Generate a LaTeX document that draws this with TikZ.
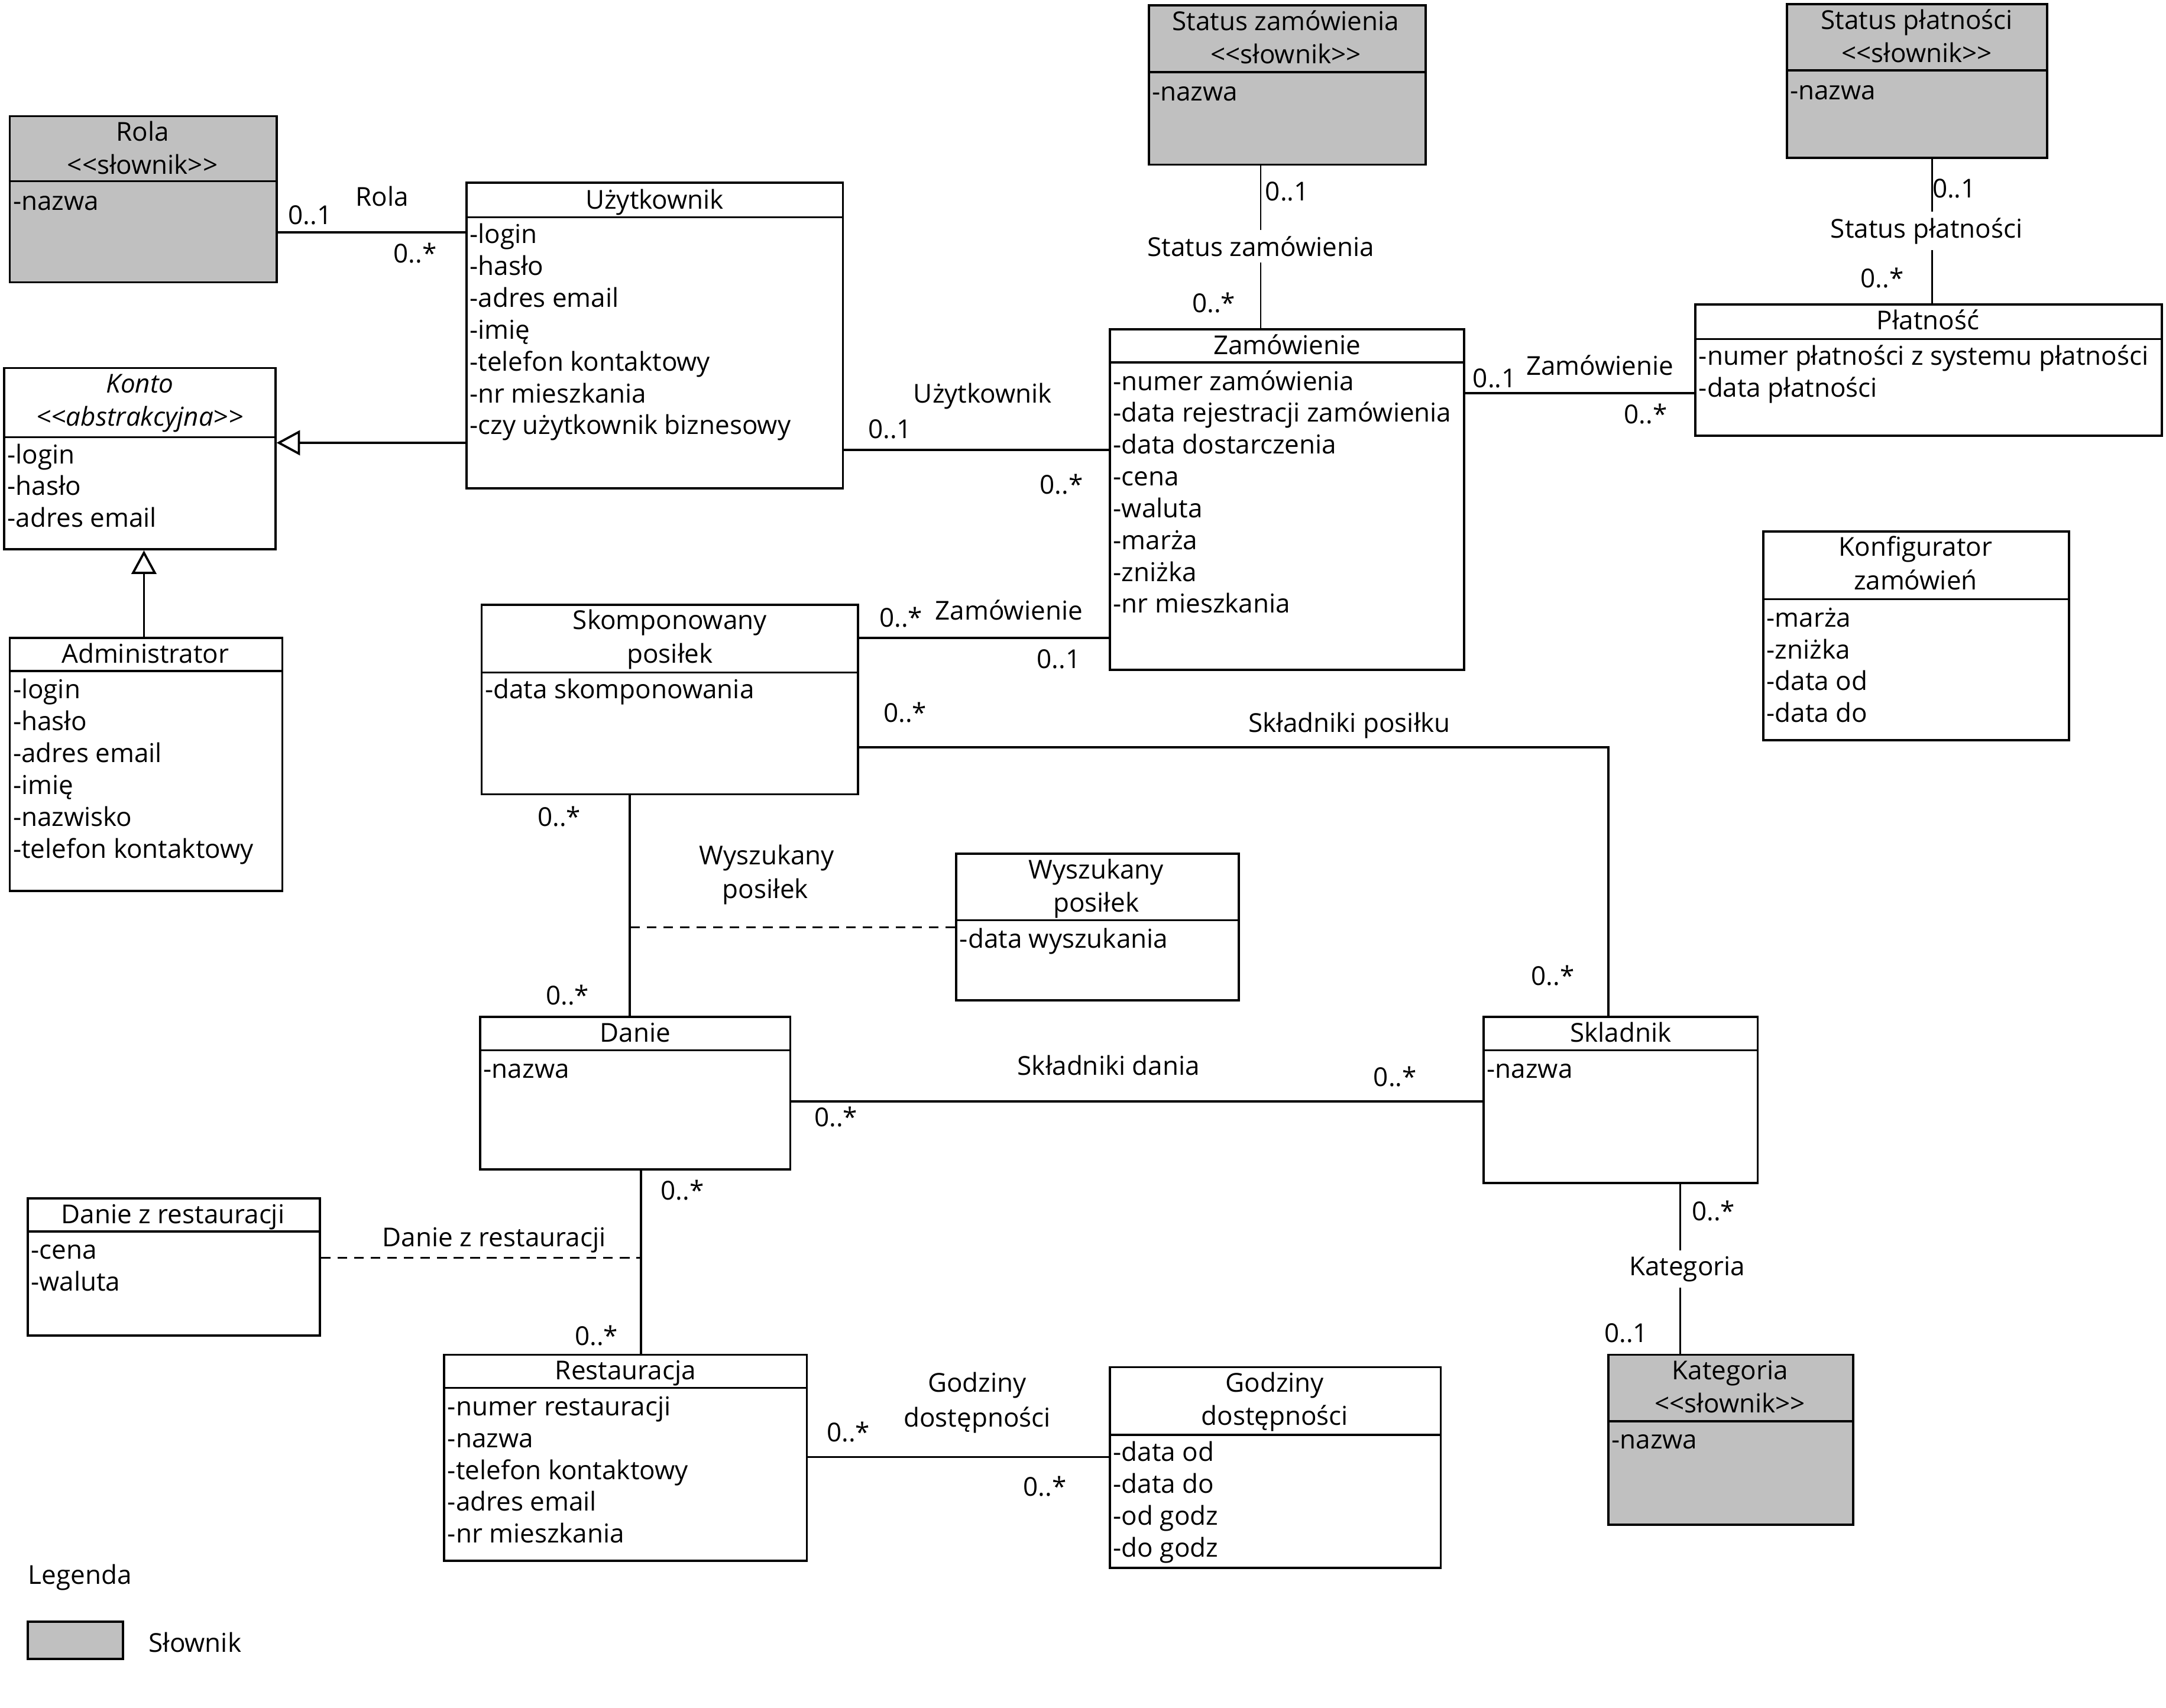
\documentclass[tikz,border=0pt]{standalone}
\usepackage{fontspec}
\setmainfont{Open Sans}
\usetikzlibrary{fit,arrows.meta}
\definecolor{dictgray}{HTML}{C0C0C0}
\newcommand{\clsbox}[7]{% name, x1, y1, x2, y2, divider y, fill
  \node[box, fill=#7, fit={(#2,#3)(#4,#5)}] (#1) {};
  \draw[boxline] (#1.west |- 0,#6) -- (#1.east |- 0,#6);}
\newcommand{\clsattrs}[4]{% name, x, first baseline, list
  \foreach \t [count=\i] in {#4} \node[attr] (#1-a\i) at (#2,{#3+23*(\i-1)}) {\t};}
\newcommand{\clstitle}[4]{% name, xc, first baseline, list
  \foreach \t [count=\i] in {#4} \node[ttl] (#1-t\i) at (#2,{#3+24*(\i-1)}) {\t};}
\newcommand{\slow}{<{}<słownik>{}>}
\begin{document}
\begin{tikzpicture}[x=0.5pt,y=-0.5pt,
  font=\fontsize{9.4}{11}\selectfont,
  box/.style={draw, line width=0.8pt, inner sep=0pt},
  boxline/.style={line width=0.8pt},
  attr/.style={anchor=base west, inner sep=0pt},
  ttl/.style={anchor=base, inner sep=0pt},
  lbl/.style={anchor=base, inner sep=0pt},
  clbl/.style={anchor=center, inner sep=2pt},
  assoc/.style={line width=0.8pt},
  thinassoc/.style={line width=0.5pt},
  gen/.style={line width=0.8pt, -{Triangle[open, length=8.5pt, width=9pt]}},
  assocclass/.style={line width=0.6pt, dash pattern=on 3.5pt off 2.5pt}]
\useasboundingbox (0,0) rectangle (1565,1234);

% ---------- classes ----------
\clsbox{rola}{7}{84}{200}{204}{131}{dictgray}
\clstitle{rola}{103}{102}{Rola,\slow}
\clsattrs{rola}{9}{152}{-nazwa}

\clsbox{uzyt}{337}{132}{609}{353}{157}{white}
\clstitle{uzyt}{473}{151}{Użytkownik}
\clsattrs{uzyt}{339}{176}{-login,-hasło,-adres email,-imię,-telefon kontaktowy,-nr mieszkania,-czy użytkownik biznesowy}

\clsbox{konto}{3}{266}{199}{397}{316}{white}
\node[ttl] (konto-t1) at (101,284) {\itshape Konto};
\node[ttl] (konto-t2) at (101,308) {\itshape <{}<abstrakcyjna>{}>};
\clsattrs{konto}{5}{335}{-login,-hasło,-adres email}

\clsbox{admin}{7}{461}{204}{644}{485}{white}
\clstitle{admin}{105}{479}{Administrator}
\clsattrs{admin}{9}{505}{-login,-hasło,-adres email,-imię,-nazwisko,-telefon kontaktowy}

\clsbox{statz}{830}{4}{1030}{119}{52}{dictgray}
\clstitle{statz}{929}{22}{Status zamówienia,\slow}
\clsattrs{statz}{832}{73}{-nazwa}

\clsbox{statp}{1291}{3}{1479}{114}{51}{dictgray}
\clstitle{statp}{1385}{21}{Status płatności,\slow}
\clsattrs{statp}{1293}{72}{-nazwa}

\clsbox{zam}{802}{238}{1058}{484}{262}{white}
\clstitle{zam}{930}{256}{Zamówienie}
\clsattrs{zam}{804}{282}{-numer zamówienia,-data rejestracji zamówienia,-data dostarczenia,-cena,-waluta,-marża,-zniżka,-nr mieszkania}

\clsbox{plat}{1225}{220}{1562}{315}{245}{white}
\clstitle{plat}{1393}{238}{Płatność}
\clsattrs{plat}{1227}{264}{-numer płatności z systemu płatności,-data płatności}

\clsbox{konf}{1274}{384}{1495}{535}{433}{white}
\clstitle{konf}{1384}{402}{Konfigurator,zamówień}
\clsattrs{konf}{1276}{453}{-marża,-zniżka,-data od,-data do}

\clsbox{skomp}{348}{437}{620}{574}{486}{white}
\clstitle{skomp}{484}{455}{Skomponowany,posiłek}
\clsattrs{skomp}{350}{505}{-data skomponowania}

\clsbox{wysz}{691}{617}{895}{723}{665}{white}
\clstitle{wysz}{792}{635}{Wyszukany,posiłek}
\clsattrs{wysz}{693}{685}{-data wyszukania}

\clsbox{danie}{347}{735}{571}{845}{759}{white}
\clstitle{danie}{459}{753}{Danie}
\clsattrs{danie}{349}{779}{-nazwa}

\clsbox{skl}{1072}{735}{1270}{855}{759}{white}
\clstitle{skl}{1171}{753}{Skladnik}
\clsattrs{skl}{1074}{779}{-nazwa}

\clsbox{dzr}{20}{866}{231}{965}{890}{white}
\clstitle{dzr}{125}{884}{Danie z restauracji}
\clsattrs{dzr}{22}{910}{-cena,-waluta}

\clsbox{rest}{321}{979}{583}{1128}{1003}{white}
\clstitle{rest}{452}{997}{Restauracja}
\clsattrs{rest}{323}{1023}{-numer restauracji,-nazwa,-telefon kontaktowy,-adres email,-nr mieszkania}

\clsbox{god}{802}{988}{1041}{1133}{1037}{white}
\clstitle{god}{921}{1006}{Godziny,dostępności}
\clsattrs{god}{804}{1056}{-data od,-data do,-od godz,-do godz}

\clsbox{kat}{1162}{979}{1339}{1102}{1027}{dictgray}
\clstitle{kat}{1250}{997}{Kategoria,\slow}
\clsattrs{kat}{1164}{1047}{-nazwa}

% ---------- legend ----------
\node[attr] (legtitle) at (20,1145) {Legenda};
\node[box, fill=dictgray, fit={(20,1172)(89,1199)}] (legbox) {};
\node[attr] (legtext) at (107,1194) {Słownik};

% ---------- connectors ----------
% Rola
\draw[assoc] (rola.east |- 0,168) -- (uzyt.west |- 0,168);
\node[lbl] (l-rola) at (276,149) {Rola};
\node[lbl] (m-rola1) at (224,162) {0..1};
\node[lbl] (m-rola2) at (300,190) {0..*};

% generalizations
\draw[gen] (uzyt.west |- 0,320) -- (konto.east |- 0,320);
\draw[gen] (admin.north -| 104,0) -- (konto.south -| 104,0);

% Uzytkownik - Zamowienie
\draw[assoc] (uzyt.east |- 0,325) -- (zam.west |- 0,325);
\node[lbl] (l-uz) at (710,291) {Użytkownik};
\node[lbl] (m-uz1) at (643,317) {0..1};
\node[lbl] (m-uz2) at (767,357) {0..*};

% Status zamowienia
\node[clbl] (l-sz) at (911,178) {Status zamówienia};
\draw[thinassoc] (statz.south -| l-sz) -- (l-sz);
\draw[thinassoc] (l-sz) -- (zam.north -| l-sz);
\node[lbl] (m-sz1) at (930,145) {0..1};
\node[lbl] (m-sz2) at (877,226) {0..*};

% Status platnosci
\node[clbl] (l-sp) at (1392,167) {Status płatności};
\draw[thinassoc] (statp.south -| 1396,0) -- (l-sp.north -| 1396,0);
\draw[thinassoc] (l-sp.south -| 1396,0) -- (plat.north -| 1396,0);
\node[lbl] (m-sp1) at (1412,143) {0..1};
\node[lbl] (m-sp2) at (1360,208) {0..*};

% Zamowienie - Platnosc
\draw[assoc] (zam.east |- 0,284) -- (plat.west |- 0,284);
\node[lbl] (l-zp) at (1156,271) {Zamówienie};
\node[lbl] (m-zp1) at (1080,280) {0..1};
\node[lbl] (m-zp2) at (1189,306) {0..*};

% Skomponowany - Zamowienie
\draw[assoc] (skomp.east |- 0,461) -- (zam.west |- 0,461);
\node[lbl] (l-sk) at (729,448) {Zamówienie};
\node[lbl] (m-sk1) at (651,453) {0..*};
\node[lbl] (m-sk2) at (765,483) {0..1};

% Skomponowany - Skladnik
\draw[assoc] (skomp.east |- 0,540) -| (skl.north -| 1162,0);
\node[lbl] (l-ssk) at (975,529) {Składniki posiłku};
\node[lbl] (m-ssk1) at (654,522) {0..*};
\node[lbl] (m-ssk2) at (1122,712) {0..*};

% Skomponowany - Danie (Wyszukany posilek)
\draw[assoc] (skomp.south -| 455,0) -- (danie.north -| 455,0);
\coordinate (sdmid) at (455,670);
\draw[assocclass] (wysz.west |- sdmid) -- (sdmid);
\node[lbl] (l-wp1) at (554,625) {Wyszukany};
\node[lbl] (l-wp2) at (553,649) {posiłek};
\node[lbl] (m-sd1) at (404,597) {0..*};
\node[lbl] (m-sd2) at (410,726) {0..*};

% Danie - Skladnik
\draw[assoc] (danie.east |- 0,796) -- (skl.west |- 0,796);
\node[lbl] (l-ds) at (801,777) {Składniki dania};
\node[lbl] (m-ds1) at (604,814) {0..*};
\node[lbl] (m-ds2) at (1008,785) {0..*};

% Danie - Restauracja (Danie z restauracji)
\draw[assoc] (danie.south -| 463,0) -- (rest.north -| 463,0);
\coordinate (drmid) at (463,909);
\draw[assocclass] (dzr.east |- drmid) -- (drmid);
\node[lbl] (l-dr) at (357,901) {Danie z restauracji};
\node[lbl] (m-dr1) at (493,867) {0..*};
\node[lbl] (m-dr2) at (431,972) {0..*};

% Restauracja - Godziny
\draw[assoc] (rest.east |- 0,1053) -- (god.west |- 0,1053);
\node[lbl] (l-rg1) at (706,1006) {Godziny};
\node[lbl] (l-rg2) at (706,1031) {dostępności};
\node[lbl] (m-rg1) at (613,1042) {0..*};
\node[lbl] (m-rg2) at (755,1081) {0..*};

% Skladnik - Kategoria
\node[clbl] (l-kat) at (1219,917) {Kategoria};
\draw[thinassoc] (skl.south -| 1214,0) -- (l-kat.north -| 1214,0);
\draw[thinassoc] (l-kat.south -| 1214,0) -- (kat.north -| 1214,0);
\node[lbl] (m-kat1) at (1238,882) {0..*};
\node[lbl] (m-kat2) at (1175,970) {0..1};
\end{tikzpicture}
\end{document}
